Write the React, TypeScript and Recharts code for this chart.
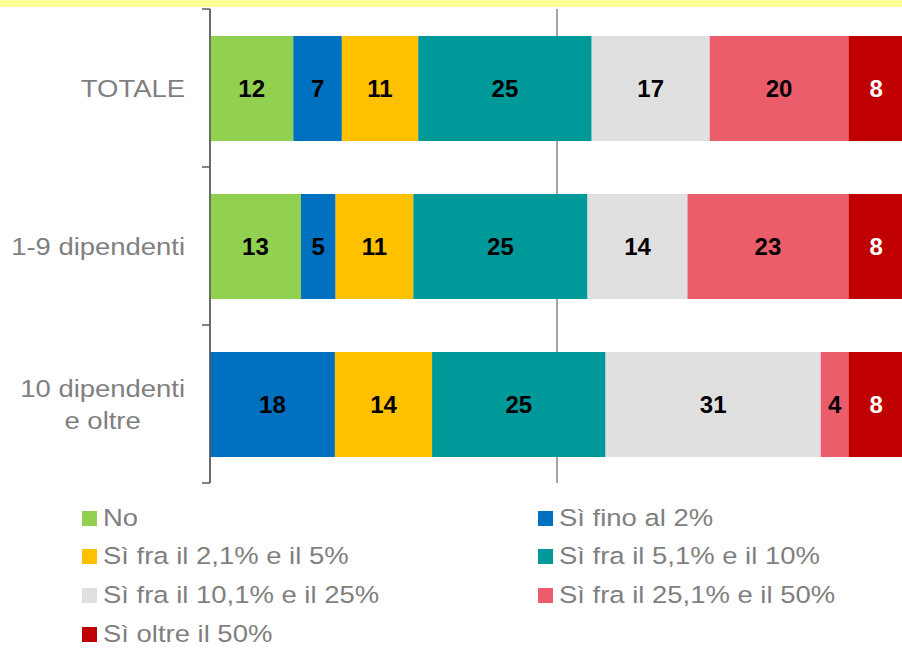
import React from "react"
import { Bar, BarChart, CartesianGrid, LabelList, Legend, XAxis, YAxis } from "recharts"

const categories = ["TOTALE", "1-9 dipendenti", "10 dipendenti\ne oltre"]

const seriesNames = [
  "No",
  "Sì fino al 2%",
  "Sì fra il 2,1% e il 5%",
  "Sì fra il 5,1% e il 10%",
  "Sì fra il 10,1% e il 25%",
  "Sì fra il 25,1% e il 50%",
  "Sì oltre il 50%",
]

const seriesColors = ["#92D050", "#0070C0", "#FFC000", "#009999", "#E0E0E0", "#EC5D6B", "#C00000"]

// one array per category, in the order of seriesNames
const totale = [12, 7, 11, 25, 17, 20, 8]
const piccole = [13.1, 5, 11.2, 25.1, 14.4, 23.2, 8]
const grandi = [0, 18, 14, 25, 31, 4, 8]

const rows = [totale, piccole, grandi]

const chartData = categories.map((name, i) => {
  const row: Record<string, any> = { name }
  seriesNames.forEach((s, j) => {
    row["s" + j] = rows[i][j]
  })
  return row
})

const FONT = "'Liberation Sans', Arial, sans-serif"
const GRAY = "#7F7F7F"
const TXT = 24.5
const STRETCH = 1.12 // the source text is a bit wider than Arial

let measureCtx: CanvasRenderingContext2D | null = null
function textWidth(t: string) {
  if (!measureCtx) measureCtx = document.createElement("canvas").getContext("2d")
  if (!measureCtx) return t.length * 12 * STRETCH
  measureCtx.font = TXT + "px " + FONT
  return measureCtx.measureText(t).width * STRETCH
}

const BAND = 158

const CategoryTick = (props: any) => {
  const { x, y, payload, index } = props
  const lines = String(payload.value).split("\n")
  const widest = Math.max(...lines.map(textWidth))
  const right = x - 17
  const cx = right - widest / 2
  const lh = 32
  const axisX = x + 8
  return (
    <g>
      <line x1={axisX - 8} x2={axisX} y1={y - BAND / 2} y2={y - BAND / 2} stroke="#595959" strokeWidth={1.5} />
      {index === categories.length - 1 && (
        <line x1={axisX - 8} x2={axisX} y1={y + BAND / 2} y2={y + BAND / 2} stroke="#595959" strokeWidth={1.5} />
      )}
      {lines.map((l, i) => (
        <text
          key={i}
          transform={`translate(${lines.length > 1 ? cx : right},${y + (i - (lines.length - 1) / 2) * lh}) scale(${STRETCH},1)`}
          x={0}
          y={0}
          dy="0.36em"
          textAnchor={lines.length > 1 ? "middle" : "end"}
          fill={GRAY}
          fontSize={TXT}
          fontFamily={FONT}
        >
          {l}
        </text>
      ))}
    </g>
  )
}

const renderLabel = (color: string) => (props: any) => {
  const { x, y, width, height, value } = props
  if (!value) return null
  return (
    <text
      x={x + width / 2}
      y={y + height / 2}
      dy="0.36em"
      textAnchor="middle"
      fill={color}
      fontSize={24}
      fontWeight="bold"
      fontFamily={FONT}
    >
      {Math.round(value)}
    </text>
  )
}

const legendCols = [82, 538]
const legendRows = [518, 556, 595, 634]

const renderLegend = () => (
  <div style={{ position: "relative", width: 902, height: 148 }}>
    {seriesNames.map((s, i) => {
      const left = legendCols[i % 2]
      const top = legendRows[Math.floor(i / 2)] - 500
      return (
        <div
          key={s}
          style={{
            position: "absolute",
            left,
            top: top - 15,
            height: 30,
            display: "flex",
            alignItems: "center",
            whiteSpace: "nowrap",
            fontFamily: FONT,
            fontSize: TXT,
            color: GRAY,
          }}
        >
          <span style={{ width: 15, height: 15, background: seriesColors[i], marginRight: 6, display: "inline-block" }} />
          <span style={{ display: "inline-block", transform: `scaleX(${STRETCH})`, transformOrigin: "left center" }}>{s}</span>
        </div>
      )
    })}
  </div>
)

export default function App() {
  return (
    <div style={{ position: "absolute", left: 0, top: 0, width: 902, height: 648, overflow: "hidden", background: "#fff" }}>
      <div style={{ position: "absolute", left: 0, top: 0, width: 902, height: 7, background: "#FFFF99" }} />
      <BarChart
        width={905}
        height={648}
        data={chartData}
        layout="vertical"
        margin={{ top: 9, right: 1, bottom: 165, left: 0 }}
        barSize={105}
      >
        <CartesianGrid horizontal={false} vertical stroke="#868686" strokeWidth={1.5} />
        <XAxis type="number" domain={[0, 100]} ticks={[0, 50, 100]} hide />
        <YAxis
          type="category"
          dataKey="name"
          width={210}
          axisLine={{ stroke: "#595959", strokeWidth: 1.5 }}
          tickLine={false}
          tick={<CategoryTick />}
          interval={0}
        />
        <Legend
          layout="vertical"
          verticalAlign="middle"
          align="center"
          content={renderLegend}
          wrapperStyle={{ position: "absolute", left: 0, top: 500, width: 902 }}
        />
        {seriesNames.map((s, i) => (
          <Bar key={s} dataKey={"s" + i} name={s} stackId="a" fill={seriesColors[i]} isAnimationActive={false}>
            <LabelList dataKey={"s" + i} content={renderLabel(i === 6 ? "#FFFFFF" : "#000000")} />
          </Bar>
        ))}
      </BarChart>
    </div>
  )
}
